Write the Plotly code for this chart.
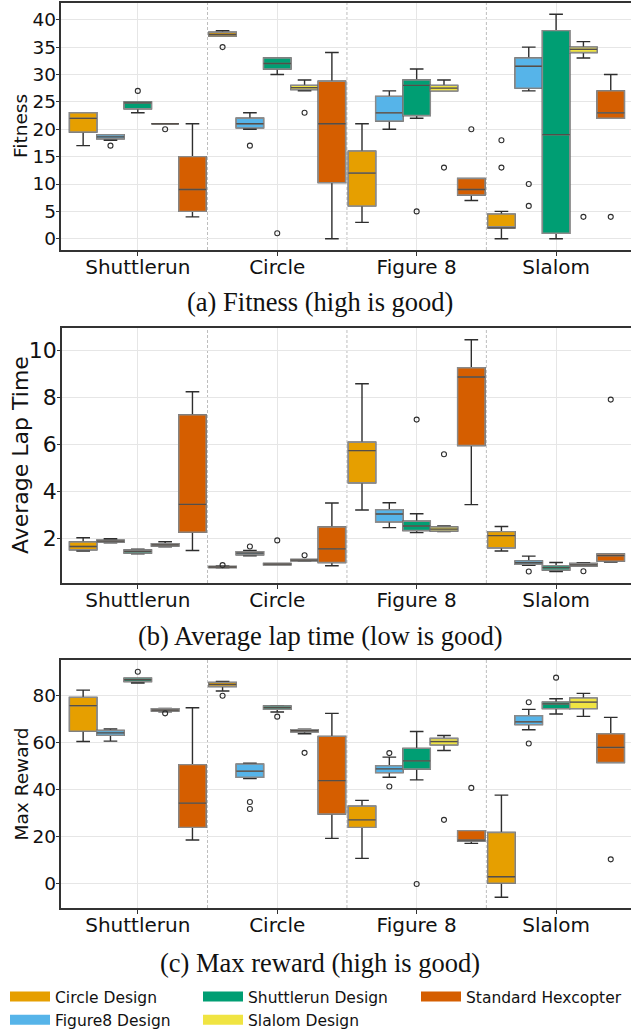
import plotly.graph_objects as go

# ---------------- data ----------------
tracks = ["Shuttlerun", "Circle", "Figure 8", "Slalom"]
designs = ["Circle Design", "Figure8 Design", "Shuttlerun Design", "Slalom Design", "Standard Hexcopter"]
colors = ["#E69F00", "#56B4E9", "#009E73", "#F0E442", "#D55E00"]

# rows = designs, columns = tracks
fitness_lo = [[17, 37, 3, 0], [18, 20, 20, 27], [23, 30, 22, 0], [21, 27, 27, 33], [4, 0, 7, 22]]
fitness_q1 = [[19.5, 37, 6, 2], [18.25, 20.25, 21.5, 27.5], [23.75, 31, 22.5, 1], [21, 27.25, 27, 34], [5, 10.25, 8, 22]]
fitness_med = [[22, 37.3, 12, 2], [18.6, 21, 23, 31.5], [24.8, 32, 28, 19], [21, 27.6, 27.5, 34.6], [9, 21, 9, 23]]
fitness_q3 = [[23, 37.7, 16, 4.5], [19, 22, 26, 33], [25, 33, 29, 38], [21, 28, 28, 35], [15, 28.75, 11, 27]]
fitness_hi = [[23, 38, 21, 5], [19, 23, 27, 35], [25, 33, 31, 41], [21, 29, 29, 36], [21, 34, 11, 30]]
fitness_out = [[[], [35], [], [18, 13]], [[17], [17], [], [10, 6]], [[27], [1], [5], []],
               [[20], [23], [13], [4]], [[], [], [20], [4]]]

lap_lo = [[1.48, 0.77, 3.22, 1.48], [1.83, 1.28, 2.47, 0.87], [1.36, 0.89, 2.26, 0.61], [1.66, 1.05, 2.30, 0.84], [1.50, 0.85, 3.45, 1.01]]
lap_q1 = [[1.53, 0.78, 4.38, 1.62], [1.86, 1.32, 2.72, 0.91], [1.39, 0.89, 2.35, 0.67], [1.69, 1.06, 2.33, 0.84], [2.28, 0.99, 5.96, 1.05]]
lap_med = [[1.67, 0.80, 5.74, 2.13], [1.90, 1.39, 3.05, 0.98], [1.46, 0.92, 2.54, 0.77], [1.74, 1.09, 2.41, 0.89], [3.46, 1.57, 8.87, 1.28]]
lap_q3 = [[1.86, 0.82, 6.10, 2.30], [1.94, 1.45, 3.23, 1.06], [1.52, 0.95, 2.74, 0.85], [1.79, 1.12, 2.50, 0.95], [7.26, 2.50, 9.26, 1.35]]
lap_hi = [[2.04, 0.84, 8.58, 2.52], [2.00, 1.50, 3.53, 1.26], [1.56, 0.95, 3.06, 0.99], [1.87, 1.12, 2.54, 0.98], [8.24, 3.52, 10.45, 1.35]]
lap_out = [[[], [0.88], [], []], [[], [1.67], [], [0.61]], [[], [1.93], [7.06], []],
           [[], [1.30], [5.59], [0.62]], [[], [], [], [7.91]]]

reward_lo = [[60.25, 81.7, 10.5, -6.0], [60.4, 44.5, 45.0, 65.2], [85.1, 72.8, 43.9, 71.9], [72.9, 63.5, 56.4, 70.9], [18.3, 19.0, 16.9, 51.3]]
reward_q1 = [[64.65, 83.6, 23.7, 0.0], [62.9, 45.0, 47.0, 67.4], [85.7, 73.9, 48.5, 74.2], [73.2, 64.4, 58.8, 74.2], [23.7, 29.4, 17.9, 51.3]]
reward_med = [[75.45, 84.5, 26.9, 2.7], [63.9, 47.6, 48.6, 68.6], [86.5, 74.6, 52.0, 76.2], [73.6, 64.8, 60.2, 77.0], [34.0, 43.6, 18.3, 57.7]]
reward_q3 = [[79.0, 85.4, 32.7, 21.5], [64.9, 50.6, 49.9, 71.2], [87.2, 75.3, 57.3, 77.0], [74.2, 65.2, 61.5, 78.7], [50.4, 62.4, 22.3, 63.5]]
reward_hi = [[82.1, 85.8, 35.2, 37.4], [65.6, 51.0, 53.6, 73.9], [87.2, 75.5, 64.5, 78.4], [74.3, 65.5, 62.8, 80.7], [74.6, 72.2, 22.3, 70.5]]
reward_out = [[[], [79.7], [], []], [[], [34.5, 31.5], [55.3, 41.1], [76.9, 59.4]], [[89.9], [70.8], [-0.4], [87.4]],
              [[72.2], [55.4], [26.9], []], [[], [], [40.5], [10.1]]]

# ---------------- layout constants ----------------
W, H = 631, 1034
BOX_W = 0.196          # width of one box in category units
C0, SPACING = 137.8, 139.43  # pixel centre of first category and px per category
TICK_FONT = "DejaVu Sans"

panels = [
    dict(stats=(fitness_lo, fitness_q1, fitness_med, fitness_q3, fitness_hi), out=fitness_out,
         title="Fitness", caption="(a) Fitness (high is good)", top=3, bottom=250, left=61,
         yrange=[-2.05, 43.05], dtick=5, tfs=18.5, cap_y=302),
    dict(stats=(lap_lo, lap_q1, lap_med, lap_q3, lap_hi), out=lap_out,
         title="Average Lap Time", caption="(b) Average lap time (low is good)", top=328, bottom=583, left=62.4,
         yrange=[0.12, 10.95], dtick=2, tfs=22, cap_y=636),
    dict(stats=(reward_lo, reward_q1, reward_med, reward_q3, reward_hi), out=reward_out,
         title="Max Reward", caption="(c) Max reward (high is good)", top=660, bottom=908, left=61,
         yrange=[-10.6, 94.9], dtick=20, tfs=18.5, cap_y=963),
]

fig = go.Figure()
layout = dict(width=W, height=H, margin=dict(l=0, r=0, t=0, b=0, autoexpand=False),
              paper_bgcolor="white", plot_bgcolor="white", showlegend=True,
              boxmode="overlay")
annotations, shapes = [], []

for p_i, p in enumerate(panels):
    sfx = "" if p_i == 0 else str(p_i + 1)
    xa, ya = "x" + sfx, "y" + sfx
    lo, q1, med, q3, hi = p["stats"]
    for h, (name, col) in enumerate(zip(designs, colors)):
        xs = [t + (h - 2) * BOX_W for t in range(len(tracks))]
        # whiskers + caps (dark)
        fig.add_trace(go.Box(x=xs, q1=q1[h], median=med[h], q3=q3[h], lowerfence=lo[h], upperfence=hi[h],
                             width=BOX_W, whiskerwidth=0.5, fillcolor=col,
                             line=dict(color="#2e2e2e", width=1.4), boxpoints=False,
                             showlegend=False, hoverinfo="skip", xaxis=xa, yaxis=ya))
        # box body (grey outline)
        fig.add_trace(go.Box(x=xs, q1=q1[h], median=med[h], q3=q3[h], lowerfence=q1[h], upperfence=q3[h],
                             width=BOX_W, whiskerwidth=0, fillcolor=col,
                             line=dict(color="#8a8a8a", width=1.4), boxpoints=False,
                             showlegend=False, hoverinfo="skip", xaxis=xa, yaxis=ya))
        # median line
        fig.add_trace(go.Box(x=xs, q1=med[h], median=med[h], q3=med[h], lowerfence=med[h], upperfence=med[h],
                             width=BOX_W, whiskerwidth=0, fillcolor="rgba(0,0,0,0)",
                             line=dict(color="rgba(40,30,20,0.55)", width=1.3), boxpoints=False,
                             showlegend=False, hoverinfo="skip", xaxis=xa, yaxis=ya))
        # outliers
        ox, oy = [], []
        for t, vals in enumerate(p["out"][h]):
            for v in vals:
                ox.append(t + (h - 2) * BOX_W)
                oy.append(v)
        fig.add_trace(go.Scatter(x=ox, y=oy, mode="markers",
                                 marker=dict(symbol="circle-open", size=5, color="#2e2e2e", line=dict(width=1.1)),
                                 showlegend=False, hoverinfo="skip", xaxis=xa, yaxis=ya))

    xr = [(p["left"] - C0) / SPACING, (W - C0) / SPACING]
    layout["xaxis" + sfx] = dict(domain=[p["left"] / W, 1], range=xr, anchor=ya, automargin=False,
                                 tickvals=list(range(len(tracks))), ticktext=tracks,
                                 tickfont=dict(family=TICK_FONT, size=20, color="#111"),
                                 ticklabelstandoff=-6,
                                 showgrid=True, gridcolor="#e6e6e6", gridwidth=1, zeroline=False,
                                 showline=True, linecolor="#333", linewidth=1.6, mirror=True,
                                 ticks="outside", ticklen=4, tickcolor="#333")
    layout["yaxis" + sfx] = dict(domain=[1 - p["bottom"] / H, 1 - p["top"] / H], range=p["yrange"],
                                 anchor=xa, dtick=p["dtick"], automargin=False,
                                 tickfont=dict(family=TICK_FONT, size=p["tfs"], color="#111"),
                                 ticklabelstandoff=-4,
                                 showgrid=True, gridcolor="#e6e6e6", gridwidth=1, zeroline=False,
                                 showline=True, linecolor="#333", linewidth=1.6, mirror=False,
                                 ticks="outside", ticklen=3.5, tickcolor="#333")
    # y-axis title
    annotations.append(dict(text=p["title"], xref="paper", yref=ya + " domain", x=20.5 / W, y=0.5,
                            textangle=-90, xanchor="center", yanchor="middle", showarrow=False,
                            font=dict(family=TICK_FONT, size=p["tfs"], color="#111")))
    # dashed separators between track groups
    for b in range(len(tracks) - 1):
        shapes.append(dict(type="line", xref=xa, yref=ya + " domain", x0=b + 0.5, x1=b + 0.5, y0=0, y1=1,
                           line=dict(color="#bdbdbd", width=1, dash="3px,2px"), layer="below"))
    annotations.append(dict(text=p["caption"], xref="paper", yref="paper", x=320 / W, y=1 - p["cap_y"] / H,
                            xanchor="center", yanchor="middle", showarrow=False,
                            font=dict(family="Liberation Serif", size=26.5, color="#111")))

# legend entries (three columns)
legend_cols = ["legend", "legend", "legend2", "legend2", "legend3"]
for name, col, lg in zip(designs, colors, legend_cols):
    fig.add_trace(go.Scatter(x=[None], y=[None], mode="lines", name=name, legend=lg,
                             line=dict(color=col, width=12), hoverinfo="skip", xaxis="x3", yaxis="y3"))

leg_common = dict(yanchor="top", xanchor="left", orientation="v", bgcolor="rgba(0,0,0,0)",
                  font=dict(family=TICK_FONT, size=15.5, color="#111"), itemwidth=40,
                  tracegroupgap=0, y=1 - 980 / H)
layout["legend"] = dict(leg_common, x=5 / W)
layout["legend2"] = dict(leg_common, x=198 / W)
layout["legend3"] = dict(leg_common, x=416 / W)
layout["annotations"] = annotations
layout["shapes"] = shapes
fig.update_layout(**layout)

fig.write_html("out.html", config={"displayModeBar": False},
               post_script="document.body.style.margin='0px';document.body.style.overflow='hidden';")
